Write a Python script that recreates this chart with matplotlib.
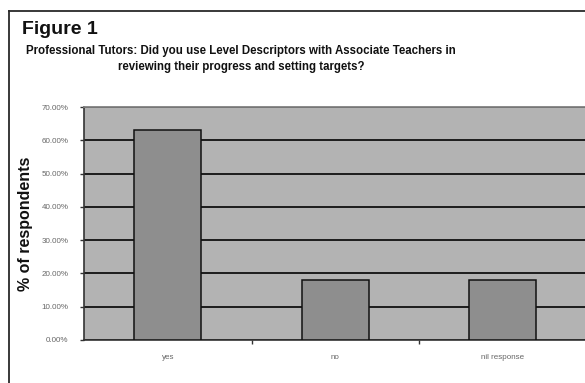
import numpy as np
import matplotlib
matplotlib.use('Agg')
import matplotlib.pyplot as plt
from matplotlib.lines import Line2D

plt.rcParams['font.family'] = ['Liberation Sans', 'DejaVu Sans']

# data
categories = ['yes', 'no', 'nil response']
values = [63.2, 18.0, 18.0]
yticks = [0, 10, 20, 30, 40, 50, 60, 70]
ytick_labels = ['%.2f%%' % v for v in yticks]

W, H = 585, 383
fig = plt.figure(figsize=(W / 100, H / 100), dpi=100)

# outer frame (only top/left visible in reference)
fig.add_artist(Line2D([9 / W, 9 / W], [0, 1 - 11 / H], transform=fig.transFigure,
                      color='#2a2a2a', lw=1.3))
fig.add_artist(Line2D([9 / W, 1], [1 - 11 / H, 1 - 11 / H], transform=fig.transFigure,
                      color='#2a2a2a', lw=1.3))

fig.text(22 / W, 1 - 29.5 / H, 'Figure 1', fontsize=14, fontweight='bold',
         va='center', ha='left', color='#111111')
fig.text(241 / W, 1 - 59 / H,
         'Professional Tutors: Did you use Level Descriptors with Associate Teachers in\n'
         'reviewing their progress and setting targets?',
         fontsize=8.3, fontweight='bold', ha='center', va='center',
         linespacing=1.4, color='#111111')

left, right, top, bottom = 84, 586.5, 107, 340
ax = fig.add_axes([left / W, 1 - bottom / H, (right - left) / W, (bottom - top) / H])
ax.set_facecolor('#b3b3b3')

x = np.arange(len(categories))
ax.set_axisbelow(True)
ax.yaxis.grid(True, color='#111111', lw=1.3)
ax.bar(x, values, width=0.4, color='#8e8e8e', edgecolor='#111111', lw=1.1, zorder=3)

ax.set_xlim(-0.5, len(categories) - 0.5)
ax.set_ylim(0, 70)
ax.set_yticks(yticks)
ax.set_yticklabels(ytick_labels, fontsize=5.8, color='#666666')
ax.set_xticks(x)
ax.set_xticklabels(categories, fontsize=5.8, color='#666666')
ax.tick_params(axis='x', length=0, pad=10)
ax.set_xticks(np.arange(len(categories)) + 0.5, minor=True)
ax.tick_params(axis='x', which='minor', length=3, color='#333333', width=1)
ax.tick_params(axis='y', length=3, color='#333333', width=1, pad=8)

for s in ['left', 'bottom']:
    ax.spines[s].set_color('#333333')
    ax.spines[s].set_linewidth(1.2)
ax.spines['top'].set_color('#808080')
ax.spines['top'].set_linewidth(1.3)
ax.spines['right'].set_visible(False)

ax.set_ylabel('% of respondents', fontsize=11.5, fontweight='bold', color='#111111')
ax.yaxis.set_label_coords(-(84 - 33) / (right - left), 0.5)

fig.savefig('out.png', dpi=100)
